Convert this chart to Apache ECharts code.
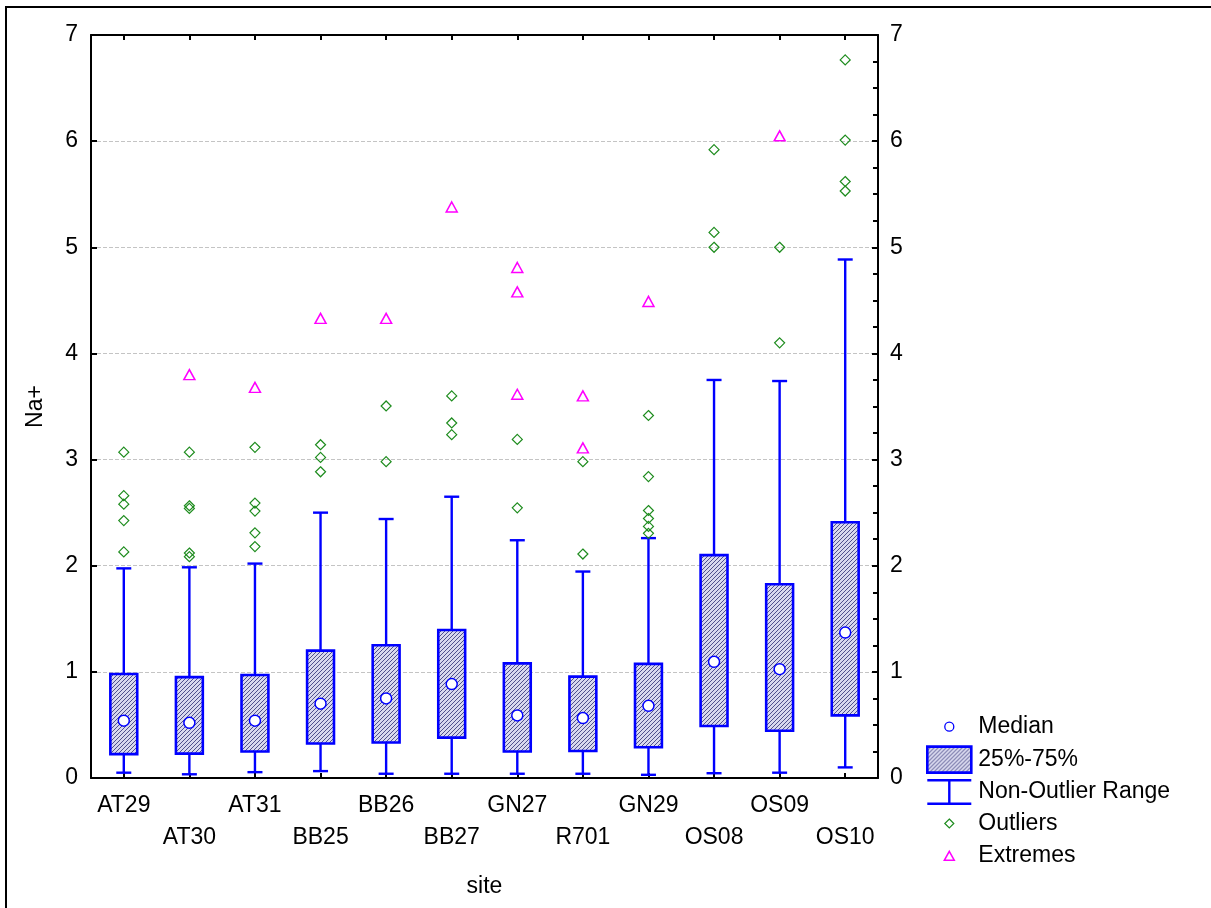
<!DOCTYPE html>
<html>
<head>
<meta charset="utf-8">
<title>Na+ by site</title>
<script src="https://cdn.jsdelivr.net/npm/echarts@6/dist/echarts.min.js"></script>
<style>
  html, body { margin: 0; padding: 0; background: #fff; }
  #chart { width: 1211px; height: 908px; }
</style>
</head>
<body>
<div id="chart"></div>
<script>
// sites on the x axis
var categories = ['AT29', 'AT30', 'AT31', 'BB25', 'BB26', 'BB27', 'GN27', 'R701', 'GN29', 'OS08', 'OS09', 'OS10'];

// box stats
var whiskerLow  = [0.05, 0.035, 0.055, 0.065, 0.04, 0.04, 0.04, 0.04, 0.03, 0.045, 0.05, 0.10];
var q1          = [0.225, 0.23, 0.25, 0.325, 0.335, 0.38, 0.25, 0.255, 0.29, 0.49, 0.445, 0.59];
var median      = [0.54, 0.52, 0.54, 0.70, 0.75, 0.885, 0.59, 0.565, 0.68, 1.095, 1.025, 1.37];
var q3          = [0.98, 0.95, 0.97, 1.20, 1.25, 1.395, 1.08, 0.955, 1.075, 2.10, 1.825, 2.41];
var whiskerHigh = [1.975, 1.985, 2.02, 2.50, 2.44, 2.65, 2.24, 1.945, 2.26, 3.75, 3.74, 4.885];

// outliers (green diamonds)
var outlierPts = [
	['AT29', 3.07], ['AT29', 2.66], ['AT29', 2.58], ['AT29', 2.425], ['AT29', 2.13],
	['AT30', 3.07], ['AT30', 2.565], ['AT30', 2.54], ['AT30', 2.12], ['AT30', 2.085],
	['AT31', 3.115], ['AT31', 2.59], ['AT31', 2.515], ['AT31', 2.31], ['AT31', 2.18],
	['BB25', 3.14], ['BB25', 3.02], ['BB25', 2.885],
	['BB26', 3.505], ['BB26', 2.98],
	['BB27', 3.60], ['BB27', 3.345], ['BB27', 3.235],
	['GN27', 3.19], ['GN27', 2.545],
	['R701', 2.98], ['R701', 2.11],
	['GN29', 3.415], ['GN29', 2.84], ['GN29', 2.52], ['GN29', 2.445], ['GN29', 2.37], ['GN29', 2.305],
	['OS08', 5.92], ['OS08', 5.14], ['OS08', 5.00],
	['OS09', 5.00], ['OS09', 4.10],
	['OS10', 6.765], ['OS10', 6.01], ['OS10', 5.62], ['OS10', 5.53]
];

// extremes (magenta triangles)
var extremePts = [
	['AT30', 3.80], ['AT31', 3.68], ['BB25', 4.33], ['BB26', 4.33], ['BB27', 5.38],
	['GN27', 4.81], ['GN27', 4.58], ['GN27', 3.615],
	['R701', 3.60], ['R701', 3.11],
	['GN29', 4.49], ['OS09', 6.05]
];

var yTicks = [0, 7, 1]; // min, max, step

var BLUE = '#0000ff';
var GREEN = '#1e8c1e';
var MAGENTA = '#ff00ff';
var FONT = '"Liberation Sans", Arial, sans-serif';

// hatch fill for the boxes
var hatch = document.createElement('canvas');
hatch.width = 4;
hatch.height = 4;
var g = hatch.getContext('2d');
g.fillStyle = '#d8d8ee';
g.fillRect(0, 0, 4, 4);
g.strokeStyle = '#50508c';
g.lineWidth = 1;
g.beginPath();
g.moveTo(0, 4); g.lineTo(4, 0);
g.moveTo(-1, 1); g.lineTo(1, -1);
g.moveTo(3, 5); g.lineTo(5, 3);
g.stroke();
var hatchFill = { image: hatch, repeat: 'repeat' };

var chart = echarts.init(document.getElementById('chart'), null, { renderer: 'canvas' });

var whiskerData = categories.map(function(c, i) { return [i, whiskerLow[i], whiskerHigh[i]]; });
var boxData = categories.map(function(c, i) { return [i, q1[i], q3[i]]; });
var medianData = categories.map(function(c, i) { return [c, median[i]]; });

function renderWhisker(params, api) {
	var x = api.value(0);
	var lo = api.coord([x, api.value(1)]);
	var hi = api.coord([x, api.value(2)]);
	var half = 7.5;
	var st = { stroke: BLUE, lineWidth: 2.4 };
	return {
		type: 'group',
		children: [
			{ type: 'line', shape: { x1: lo[0], y1: lo[1], x2: hi[0], y2: hi[1] }, style: st },
			{ type: 'line', shape: { x1: hi[0] - half, y1: hi[1], x2: hi[0] + half, y2: hi[1] }, style: st },
			{ type: 'line', shape: { x1: lo[0] - half, y1: lo[1], x2: lo[0] + half, y2: lo[1] }, style: st }
		]
	};
}

function renderBox(params, api) {
	var x = api.value(0);
	var bot = api.coord([x, api.value(1)]);
	var top = api.coord([x, api.value(2)]);
	var w = api.size([1, 0])[0] * 0.41;
	return {
		type: 'rect',
		shape: { x: top[0] - w / 2, y: top[1], width: w, height: bot[1] - top[1] },
		style: { fill: hatchFill, stroke: BLUE, lineWidth: 2.6 }
	};
}

var labelStyle = { fontSize: 23, color: '#000', fontFamily: FONT };
var blackLine = { color: '#000', width: 2 };

var option = {
	animation: false,
	backgroundColor: '#fff',
	textStyle: { fontFamily: FONT },
	grid: { left: 91, right: 333, top: 35, bottom: 130, containLabel: false },
	graphic: [{
		// outer frame, only left + top show
		type: 'rect',
		shape: { x: 6, y: 7, width: 1400, height: 1100 },
		style: { fill: 'none', stroke: '#000', lineWidth: 2 },
		silent: true
	}],
	legend: {
		orient: 'vertical',
		left: 921,
		top: 708,
		itemWidth: 44,
		itemHeight: 26,
		itemGap: 5,
		selectedMode: false,
		textStyle: { fontSize: 23, color: '#000', fontFamily: FONT, padding: [0, 0, 0, 2] },
		data: [
			{
				name: 'Median',
				icon: 'path://M0 0M44 26M26.5 13A4.5 4.5 0 1 1 17.5 13A4.5 4.5 0 1 1 26.5 13Z',
				itemStyle: { color: '#fff', borderColor: BLUE, borderWidth: 1.3 }
			},
			{
				name: '25%-75%',
				icon: 'rect',
				itemStyle: { color: hatchFill, borderColor: BLUE, borderWidth: 2.6 }
			},
			{
				name: 'Non-Outlier Range',
				icon: 'path://M0 0H44V2.5H23.2V23.5H44V26H0V23.5H20.8V2.5H0Z',
				itemStyle: { color: BLUE, borderWidth: 0 }
			},
			{
				name: 'Outliers',
				icon: 'path://M0 0M44 26M22 8.5L26.5 13L22 17.5L17.5 13Z',
				itemStyle: { color: '#fff', borderColor: GREEN, borderWidth: 1.2 }
			},
			{
				name: 'Extremes',
				icon: 'path://M0 0M44 26M22 8.5L27 17.5L17 17.5Z',
				itemStyle: { color: '#fff', borderColor: MAGENTA, borderWidth: 1.5 }
			}
		]
	},
	xAxis: [{
		type: 'category',
		data: categories,
		position: 'bottom',
		boundaryGap: true,
		name: 'site',
		nameLocation: 'middle',
		nameGap: 97,
		nameTextStyle: labelStyle,
		axisLine: { onZero: false, lineStyle: blackLine },
		axisTick: { show: true, inside: true, alignWithLabel: true, length: 5, lineStyle: blackLine },
		axisLabel: {
			interval: 0,
			margin: 12,
			fontSize: 23,
			lineHeight: 32,
			color: '#000',
			fontFamily: FONT,
			formatter: function(v, i) { return i % 2 ? '\n' + v : v; }
		},
		splitLine: { show: false }
	}, {
		type: 'category',
		data: categories,
		position: 'top',
		boundaryGap: true,
		axisLine: { onZero: false, lineStyle: blackLine },
		axisTick: { show: true, inside: true, alignWithLabel: true, length: 5, lineStyle: blackLine },
		axisLabel: { show: false },
		splitLine: { show: false }
	}],
	yAxis: [{
		type: 'value',
		position: 'left',
		min: yTicks[0],
		max: yTicks[1],
		interval: yTicks[2],
		name: 'Na+',
		nameLocation: 'middle',
		nameRotate: 90,
		nameGap: 44,
		nameTextStyle: labelStyle,
		axisLine: { show: true, onZero: false, lineStyle: blackLine },
		axisTick: { show: true, inside: true, length: 6, lineStyle: blackLine },
		axisLabel: { margin: 13, fontSize: 23, color: '#000', fontFamily: FONT },
		splitLine: { show: true, lineStyle: { color: '#c4c4c4', type: [4, 2], width: 1 } }
	}, {
		type: 'value',
		position: 'right',
		min: yTicks[0],
		max: yTicks[1],
		interval: yTicks[2],
		axisLine: { show: true, onZero: false, lineStyle: blackLine },
		axisTick: { show: true, inside: true, length: 6, lineStyle: blackLine },
		minorTick: { show: true, splitNumber: 4, length: 5, lineStyle: blackLine },
		axisLabel: { margin: 12, fontSize: 23, color: '#000', fontFamily: FONT },
		splitLine: { show: false }
	}],
	series: [{
		name: 'Non-Outlier Range',
		type: 'custom',
		renderItem: renderWhisker,
		encode: { x: 0, y: [1, 2] },
		data: whiskerData,
		z: 2
	}, {
		name: '25%-75%',
		type: 'custom',
		renderItem: renderBox,
		encode: { x: 0, y: [1, 2] },
		data: boxData,
		z: 3
	}, {
		name: 'Median',
		type: 'scatter',
		symbol: 'circle',
		symbolSize: 11,
		itemStyle: { color: '#fff', borderColor: BLUE, borderWidth: 1.5, opacity: 1 },
		data: medianData,
		z: 4
	}, {
		name: 'Outliers',
		type: 'scatter',
		symbol: 'diamond',
		symbolSize: [10, 10],
		itemStyle: { color: 'rgba(255,255,255,0)', borderColor: GREEN, borderWidth: 1.2, opacity: 1 },
		data: outlierPts,
		z: 4
	}, {
		name: 'Extremes',
		type: 'scatter',
		symbol: 'triangle',
		symbolSize: [11, 10],
		itemStyle: { color: 'rgba(255,255,255,0)', borderColor: MAGENTA, borderWidth: 1.5, opacity: 1 },
		data: extremePts,
		z: 4
	}]
};

chart.setOption(option);
</script>
</body>
</html>
